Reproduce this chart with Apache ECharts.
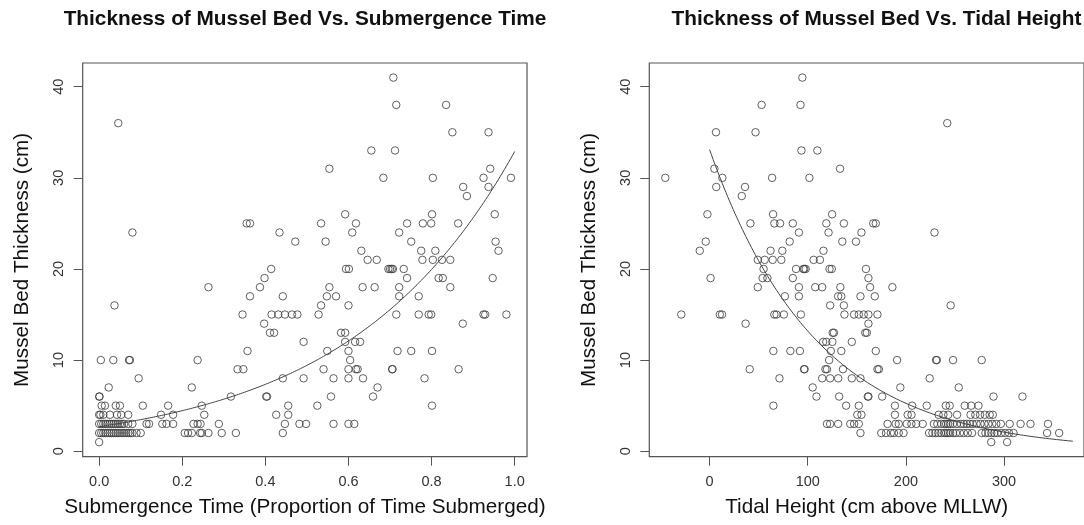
<!DOCTYPE html>
<html>
<head>
<meta charset="utf-8">
<script src="https://cdn.jsdelivr.net/npm/echarts@6/dist/echarts.min.js"></script>
<style>
  html, body { margin: 0; padding: 0; background: #ffffff; }
  #chart { width: 1084px; height: 525px; }
</style>
</head>
<body>
<div id="chart"></div>
<script>
// Mussel bed thickness (cm) against proportion of time submerged: [submergence, thickness]
const submergencePoints = [
  [0.708, 41], [0.715, 38], [0.835, 38], [0.046, 36], [0.850, 35], [0.937, 35],
  [0.655, 33], [0.712, 33], [0.554, 31], [0.941, 31],
  [0.684, 30], [0.803, 30], [0.925, 30], [0.991, 30], [0.876, 29], [0.937, 29], [0.885, 28],
  [0.592, 26], [0.801, 26], [0.952, 26],
  [0.355, 25], [0.363, 25], [0.534, 25], [0.618, 25], [0.741, 25], [0.779, 25], [0.799, 25], [0.864, 25],
  [0.080, 24], [0.434, 24], [0.609, 24], [0.722, 24],
  [0.472, 23], [0.545, 23], [0.751, 23], [0.954, 23],
  [0.631, 22], [0.775, 22], [0.809, 22], [0.961, 22],
  [0.646, 21], [0.668, 21], [0.778, 21], [0.803, 21], [0.825, 21], [0.845, 21],
  [0.414, 20], [0.594, 20], [0.601, 20], [0.696, 20], [0.700, 20], [0.704, 20], [0.707, 20], [0.733, 20],
  [0.398, 19], [0.741, 19], [0.817, 19], [0.827, 19], [0.947, 19],
  [0.263, 18], [0.387, 18], [0.554, 18], [0.634, 18], [0.663, 18], [0.722, 18], [0.845, 18],
  [0.363, 17], [0.442, 17], [0.548, 17], [0.570, 17], [0.722, 17], [0.769, 17],
  [0.037, 16], [0.534, 16], [0.600, 16],
  [0.345, 15], [0.415, 15], [0.431, 15], [0.447, 15], [0.464, 15], [0.477, 15], [0.528, 15],
  [0.715, 15], [0.769, 15], [0.793, 15], [0.799, 15], [0.925, 15], [0.929, 15], [0.980, 15],
  [0.397, 14], [0.875, 14],
  [0.411, 13], [0.421, 13], [0.582, 13], [0.592, 13],
  [0.492, 12], [0.592, 12], [0.616, 12], [0.628, 12],
  [0.357, 11], [0.549, 11], [0.600, 11], [0.718, 11], [0.751, 11], [0.801, 11],
  [0.004, 10], [0.034, 10], [0.072, 10], [0.074, 10], [0.237, 10], [0.604, 10],
  [0.333, 9], [0.347, 9], [0.540, 9], [0.600, 9], [0.618, 9], [0.622, 9], [0.705, 9], [0.706, 9], [0.865, 9],
  [0.095, 8], [0.442, 8], [0.492, 8], [0.564, 8], [0.600, 8], [0.635, 8], [0.783, 8],
  [0.023, 7], [0.223, 7], [0.670, 7],
  [0.000, 6], [0.001, 6], [0.317, 6], [0.402, 6], [0.404, 6], [0.558, 6], [0.659, 6],
  [0.006, 5], [0.014, 5], [0.040, 5], [0.050, 5], [0.105, 5], [0.166, 5], [0.247, 5], [0.455, 5], [0.525, 5], [0.801, 5],
  [0.000, 4], [0.003, 4], [0.010, 4], [0.026, 4], [0.043, 4], [0.053, 4], [0.070, 4],
  [0.149, 4], [0.178, 4], [0.253, 4], [0.426, 4], [0.455, 4],
  [0.000, 3], [0.005, 3], [0.010, 3], [0.015, 3], [0.020, 3], [0.025, 3], [0.030, 3], [0.035, 3],
  [0.040, 3], [0.045, 3], [0.050, 3], [0.055, 3], [0.060, 3], [0.070, 3], [0.080, 3],
  [0.114, 3], [0.120, 3], [0.152, 3], [0.162, 3], [0.178, 3], [0.227, 3], [0.237, 3], [0.244, 3],
  [0.288, 3], [0.447, 3], [0.482, 3], [0.498, 3], [0.564, 3], [0.600, 3], [0.614, 3],
  [0.000, 2], [0.005, 2], [0.010, 2], [0.015, 2], [0.020, 2], [0.025, 2], [0.030, 2], [0.035, 2],
  [0.040, 2], [0.045, 2], [0.050, 2], [0.055, 2], [0.060, 2], [0.065, 2], [0.070, 2], [0.075, 2],
  [0.080, 2], [0.090, 2], [0.100, 2], [0.206, 2], [0.214, 2], [0.223, 2], [0.243, 2], [0.247, 2],
  [0.263, 2], [0.295, 2], [0.329, 2], [0.442, 2],
  [0.000, 1]
];

// Mussel bed thickness (cm) against tidal height (cm above MLLW): [height, thickness]
const tidalPoints = [
  [94.5, 41], [53.0, 38], [92.6, 38], [242.1, 36], [6.5, 35], [46.8, 35],
  [93.6, 33], [109.8, 33], [4.9, 31], [132.9, 31],
  [-45.1, 30], [13.0, 30], [63.7, 30], [101.7, 30], [6.8, 29], [36.1, 29], [32.8, 28],
  [-2.2, 26], [64.7, 26], [124.8, 26],
  [41.6, 25], [66.0, 25], [71.8, 25], [84.8, 25], [118.9, 25], [136.8, 25], [166.7, 25], [169.3, 25],
  [91.0, 24], [121.2, 24], [154.7, 24], [229.1, 24],
  [-3.9, 23], [81.6, 23], [135.2, 23], [149.1, 23],
  [-10.0, 22], [62.1, 22], [74.1, 22], [116.0, 22],
  [49.1, 21], [56.2, 21], [64.3, 21], [73.1, 21], [106.0, 21], [112.4, 21],
  [55.0, 20], [88.1, 20], [95.5, 20], [96.5, 20], [97.9, 20], [122.2, 20], [124.5, 20], [159.3, 20],
  [1.0, 19], [54.0, 19], [58.9, 19], [84.8, 19], [161.8, 19],
  [49.1, 18], [91.0, 18], [107.6, 18], [114.7, 18], [133.2, 18], [163.5, 18], [186.2, 18],
  [76.7, 17], [91.0, 17], [131.0, 17], [134.2, 17], [153.7, 17], [168.3, 17],
  [122.8, 16], [136.8, 16], [245.6, 16],
  [-28.8, 15], [10.4, 15], [12.7, 15], [66.0, 15], [68.2, 15], [75.7, 15], [93.0, 15],
  [137.4, 15], [147.2, 15], [152.0, 15], [157.0, 15], [161.8, 15], [171.0, 15],
  [36.7, 14], [161.8, 14],
  [125.4, 13], [126.7, 13], [158.6, 13], [160.2, 13],
  [115.7, 12], [118.9, 12], [125.1, 12], [144.9, 12],
  [65.0, 11], [82.3, 11], [92.0, 11], [123.5, 11], [134.2, 11], [169.3, 11],
  [121.8, 10], [191.0, 10], [230.7, 10], [231.5, 10], [248.0, 10], [277.2, 10],
  [40.9, 9], [96.2, 9], [96.8, 9], [118.0, 9], [119.6, 9], [135.9, 9], [171.0, 9], [172.5, 9],
  [71.2, 8], [114.7, 8], [122.8, 8], [131.0, 8], [144.9, 8], [153.7, 8], [224.2, 8],
  [105.0, 7], [194.3, 7], [253.8, 7],
  [108.9, 6], [132.0, 6], [161.2, 6], [161.8, 6], [175.8, 6], [289.2, 6], [318.7, 6],
  [65.0, 5], [139.1, 5], [152.0, 5], [188.8, 5], [206.3, 5], [221.2, 5], [240.7, 5], [244.6, 5],
  [259.9, 5], [266.5, 5], [273.9, 5],
  [150.5, 4], [154.7, 4], [188.8, 4], [201.8, 4], [205.7, 4], [233.3, 4], [238.2, 4], [243.1, 4],
  [252.1, 4], [265.8, 4], [270.7, 4], [275.5, 4], [280.4, 4], [285.3, 4], [288.5, 4],
  [119.6, 3], [122.8, 3], [131.0, 3], [143.3, 3], [147.2, 3], [152.0, 3], [181.3, 3], [189.5, 3],
  [192.7, 3], [200.8, 3], [205.6, 3], [210.5, 3], [217.1, 3], [228.5, 3], [232.0, 3], [236.0, 3],
  [239.0, 3], [241.0, 3], [243.0, 3], [245.0, 3], [248.0, 3], [252.0, 3], [256.0, 3], [259.0, 3],
  [262.0, 3], [265.0, 3], [268.0, 3], [272.0, 3], [276.0, 3], [280.0, 3], [284.0, 3], [288.0, 3],
  [292.0, 3], [296.7, 3], [305.7, 3], [316.8, 3], [326.9, 3], [344.7, 3],
  [153.7, 2], [174.9, 2], [179.7, 2], [184.6, 2], [187.8, 2], [192.7, 2], [197.6, 2], [223.6, 2],
  [227.0, 2], [230.0, 2], [233.0, 2], [236.0, 2], [239.0, 2], [241.0, 2], [243.0, 2], [245.0, 2],
  [248.0, 2], [251.0, 2], [255.0, 2], [259.0, 2], [263.0, 2], [267.4, 2], [277.2, 2], [281.0, 2],
  [284.0, 2], [287.0, 2], [290.0, 2], [293.0, 2], [297.0, 2], [301.0, 2], [305.0, 2], [309.6, 2],
  [343.8, 2], [356.1, 2],
  [286.9, 1], [303.1, 1]
];

// Fitted exponential models: thickness = a * exp(b * x), drawn over [from, to]
const submergenceFit = { a: 2.7, b: 2.5, from: 0, to: 1.0 };
const tidalFit = { a: 33.1, b: -0.0092, from: 0, to: 370 };

// Tick positions
const submergenceTicks = [0, 0.2, 0.4, 0.6, 0.8, 1.0];
const tidalTicks = [0, 100, 200, 300];
const thicknessTicks = [0, 10, 20, 30, 40];

const titles = [
  'Thickness of Mussel Bed Vs. Submergence Time',
  'Thickness of Mussel Bed Vs. Tidal Height'
];
const xNames = [
  'Submergence Time (Proportion of Time Submerged)',
  'Tidal Height (cm above MLLW)'
];
const yName = 'Mussel Bed Thickness (cm)';

function fitCurve(fit, steps) {
  const pts = [];
  for (let i = 0; i <= steps; i++) {
    const x = fit.from + (fit.to - fit.from) * i / steps;
    pts.push([x, fit.a * Math.exp(fit.b * x)]);
  }
  return pts;
}

const FONT = '"Liberation Sans", Arial, Helvetica, sans-serif';
const INK = '#333333';
const BOX = '#555555';

// Plot boxes (pixels)
const grids = [
  { left: 82.7, top: 63, width: 444.3, height: 393.7 },
  { left: 649.3, top: 63, width: 454.3, height: 393.7 }
];

function xAxisFor(i, min, max, ticks, fmt) {
  return {
    type: 'value', gridIndex: i, min: min, max: max, position: 'bottom',
    splitLine: { show: false },
    axisLine: { show: false, onZero: false },
    axisTick: { show: true, length: 9, lineStyle: { color: BOX, width: 1 }, customValues: ticks },
    axisLabel: { customValues: ticks, formatter: fmt, fontSize: 14.5, color: INK, margin: 18, fontFamily: FONT },
    name: xNames[i], nameLocation: 'middle', nameGap: 40,
    nameTextStyle: { fontSize: 20.7, color: '#111', fontFamily: FONT }
  };
}

function yAxisFor(i) {
  return {
    type: 'value', gridIndex: i, min: -0.6, max: 42.6, position: 'left',
    splitLine: { show: false },
    axisLine: { show: false, onZero: false },
    axisTick: { show: true, length: 9, lineStyle: { color: BOX, width: 1 }, customValues: thicknessTicks },
    axisLabel: { customValues: thicknessTicks, rotate: 90, fontSize: 14.5, color: INK, margin: 16, fontFamily: FONT },
    name: yName, nameLocation: 'middle', nameGap: 50,
    nameTextStyle: { fontSize: 20.7, color: '#111', fontFamily: FONT }
  };
}

const pointStyle = {
  symbol: 'circle', symbolSize: 7.5,
  itemStyle: { color: 'rgba(0,0,0,0)', borderColor: '#3a3a3a', borderWidth: 1 }
};

const chart = echarts.init(document.getElementById('chart'), null, { renderer: 'canvas' });
chart.setOption({
  animation: false,
  backgroundColor: '#ffffff',
  grid: grids.map(g => Object.assign({ show: true, borderColor: BOX, borderWidth: 1.2, backgroundColor: 'transparent' }, g)),
  xAxis: [
    xAxisFor(0, -0.0396, 1.0296, submergenceTicks, v => v.toFixed(1)),
    xAxisFor(1, -61.4, 381.4, tidalTicks, v => String(v))
  ],
  yAxis: [yAxisFor(0), yAxisFor(1)],
  graphic: [
    { type: 'text', x: 305, y: 19, style: { text: titles[0], font: 'bold 20.8px ' + FONT, fill: '#111', textAlign: 'center', textVerticalAlign: 'middle' } },
    { type: 'text', x: 876.5, y: 19, style: { text: titles[1], font: 'bold 20.8px ' + FONT, fill: '#111', textAlign: 'center', textVerticalAlign: 'middle' } }
  ],
  series: [
    Object.assign({ type: 'scatter', xAxisIndex: 0, yAxisIndex: 0, data: submergencePoints, silent: true }, pointStyle),
    Object.assign({ type: 'scatter', xAxisIndex: 1, yAxisIndex: 1, data: tidalPoints, silent: true }, pointStyle),
    { type: 'line', xAxisIndex: 0, yAxisIndex: 0, data: fitCurve(submergenceFit, 200), showSymbol: false, silent: true,
      lineStyle: { color: '#444', width: 1 } },
    { type: 'line', xAxisIndex: 1, yAxisIndex: 1, data: fitCurve(tidalFit, 200), showSymbol: false, silent: true,
      lineStyle: { color: '#444', width: 1 } }
  ]
});
</script>
</body>
</html>
